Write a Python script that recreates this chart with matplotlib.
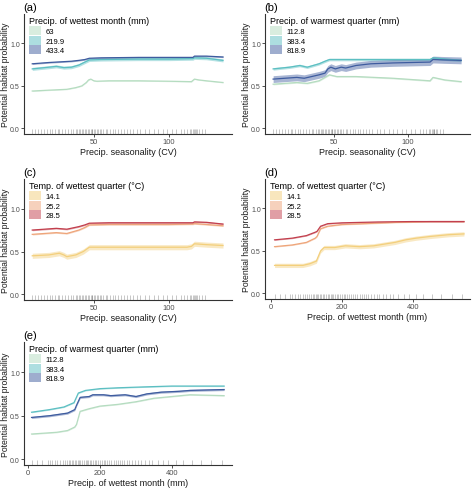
import matplotlib.pyplot as plt
from matplotlib.patches import Patch
from matplotlib.transforms import blended_transform_factory

plt.rcParams['font.family'] = ['Liberation Sans', 'DejaVu Sans']

# colours
prec_cols = ['#b5dcc0', '#5cbfc2', '#3e5c9f']
temp_cols = ['#f3cf7c', '#eea57a', '#c23f4d']

# rug positions
cv_rug = [9, 11, 13, 15, 17, 19, 21, 22, 24, 26, 27, 29, 31, 33, 35, 36, 38, 39, 40, 41,
          42, 43, 44, 45, 46, 47, 48, 48.5, 49, 50, 51, 52, 53, 54, 55, 56, 58, 59, 61, 63,
          64, 66, 68, 70, 72, 74, 76, 79, 81, 84, 87, 90, 93, 96, 99, 102, 105, 108, 110,
          112, 114, 115, 116, 117, 117.5, 118, 119, 120, 122, 124]
prec_rug = [12, 25, 40, 55, 60, 68, 75, 82, 90, 96, 102, 108, 113, 118, 122, 126, 130, 134,
            138, 142, 146, 150, 155, 160, 164, 168, 172, 176, 180, 185, 190, 195, 200, 205,
            210, 215, 220, 226, 232, 238, 244, 250, 256, 262, 268, 275, 282, 290, 298, 306,
            315, 325, 335, 345, 360, 375, 390, 410, 430, 455, 480, 510, 540]

# (a) precip seasonality x precip of wettest month
a_labels = ['63', '219.9', '433.4']
a_x = [[9, 20, 32, 38, 42, 45, 46.5, 48, 50, 52, 60, 80, 100, 115, 117, 120, 125, 136],
       [9, 20, 25, 30, 35, 40, 44, 47, 55, 80, 100, 116, 117, 125, 136],
       [9, 20, 30, 35, 40, 44, 47, 55, 80, 100, 116, 117, 125, 136]]
a_y = [[0.44, 0.45, 0.46, 0.48, 0.50, 0.54, 0.57, 0.58, 0.56, 0.555, 0.56, 0.56, 0.555, 0.55, 0.58, 0.57, 0.56, 0.54],
       [0.70, 0.72, 0.73, 0.715, 0.72, 0.745, 0.78, 0.805, 0.81, 0.815, 0.815, 0.82, 0.83, 0.825, 0.80],
       [0.76, 0.775, 0.785, 0.79, 0.80, 0.81, 0.825, 0.83, 0.835, 0.835, 0.835, 0.85, 0.85, 0.84]]
a_se = [0.005, 0.018, 0.008]

# (b) precip seasonality x precip of warmest quarter
b_labels = ['112.8', '383.4', '818.9']
b_x = [[9, 25, 32, 40, 44, 47, 52, 65, 90, 115, 117, 125, 136],
       [9, 20, 27, 32, 40, 44, 47, 60, 90, 115, 117, 125, 136],
       [9, 25, 30, 40, 44, 46, 48, 51, 55, 58, 65, 75, 90, 115, 117, 125, 136]]
b_y = [[0.52, 0.54, 0.53, 0.56, 0.60, 0.63, 0.61, 0.61, 0.59, 0.56, 0.60, 0.57, 0.55],
       [0.70, 0.72, 0.74, 0.72, 0.76, 0.79, 0.81, 0.81, 0.81, 0.81, 0.83, 0.815, 0.80],
       [0.58, 0.60, 0.59, 0.63, 0.65, 0.70, 0.72, 0.70, 0.72, 0.71, 0.74, 0.76, 0.77, 0.78, 0.81, 0.805, 0.80]]
b_se = [0.008, 0.015, 0.04]

# (c) precip seasonality x temp of wettest quarter
c_labels = ['14.1', '25.2', '28.5']
c_x = [[9, 20, 27, 30, 32, 38, 43, 47, 60, 80, 100, 112, 115, 117, 125, 136],
       [9, 25, 32, 40, 44, 47, 60, 100, 116, 117, 125, 136],
       [9, 25, 32, 40, 44, 47, 60, 100, 116, 117, 125, 136]]
c_y = [[0.45, 0.46, 0.48, 0.46, 0.44, 0.46, 0.50, 0.55, 0.55, 0.55, 0.55, 0.55, 0.56, 0.59, 0.58, 0.57],
       [0.70, 0.72, 0.71, 0.75, 0.78, 0.81, 0.815, 0.815, 0.82, 0.825, 0.815, 0.80],
       [0.75, 0.77, 0.76, 0.79, 0.81, 0.83, 0.835, 0.835, 0.835, 0.845, 0.84, 0.82]]
c_se = [0.03, 0.008, 0.008]

# (d) precip of wettest month x temp of wettest quarter
d_labels = ['14.1', '25.2', '28.5']
d_x = [[10, 90, 110, 128, 140, 150, 180, 210, 250, 290, 320, 350, 380, 410, 450, 500, 545],
       [10, 60, 100, 125, 130, 140, 160, 200, 260, 350, 450, 545],
       [10, 60, 100, 125, 130, 140, 160, 200, 300, 400, 545]]
d_y = [[0.33, 0.33, 0.35, 0.38, 0.50, 0.54, 0.54, 0.56, 0.55, 0.56, 0.58, 0.60, 0.63, 0.65, 0.67, 0.69, 0.70],
       [0.55, 0.57, 0.60, 0.65, 0.67, 0.76, 0.79, 0.81, 0.82, 0.835, 0.845, 0.845],
       [0.63, 0.65, 0.68, 0.72, 0.73, 0.79, 0.82, 0.83, 0.84, 0.845, 0.845]]
d_se = [0.025, 0.006, 0.006]

# (e) precip of wettest month x precip of warmest quarter
e_labels = ['112.8', '383.4', '818.9']
e_x = [[10, 80, 110, 130, 135, 145, 170, 200, 250, 300, 350, 400, 450, 545],
       [10, 60, 100, 128, 140, 160, 200, 250, 320, 400, 545],
       [10, 60, 110, 130, 135, 145, 170, 180, 210, 230, 270, 300, 330, 370, 420, 450, 545]]
e_y = [[0.29, 0.31, 0.33, 0.37, 0.40, 0.55, 0.58, 0.61, 0.63, 0.66, 0.70, 0.72, 0.74, 0.73],
       [0.54, 0.57, 0.60, 0.65, 0.76, 0.79, 0.81, 0.82, 0.83, 0.84, 0.84],
       [0.48, 0.50, 0.53, 0.57, 0.62, 0.71, 0.72, 0.74, 0.74, 0.73, 0.74, 0.72, 0.75, 0.77, 0.78, 0.79, 0.80]]
e_se = [0.006, 0.006, 0.012]

panels = [
    ('(a)', [24, 15, 232, 135], 'Precip. of wettest month (mm)', a_labels, a_x, a_y, a_se, prec_cols,
     'Precip. seasonality (CV)', cv_rug, (3.5, 142), [50, 100]),
    ('(b)', [265, 15, 470, 135], 'Precip. of warmest quarter (mm)', b_labels, b_x, b_y, b_se, prec_cols,
     'Precip. seasonality (CV)', cv_rug, (3.5, 142), [50, 100]),
    ('(c)', [24, 180, 232, 301], 'Temp. of wettest quarter (°C)', c_labels, c_x, c_y, c_se, temp_cols,
     'Precip. seasonality (CV)', cv_rug, (3.5, 142), [50, 100]),
    ('(d)', [265, 180, 470, 300], 'Temp. of wettest quarter (°C)', d_labels, d_x, d_y, d_se, temp_cols,
     'Precip. of wettest month (mm)', prec_rug, (-17, 562), [0, 200, 400]),
    ('(e)', [24, 343, 232, 466], 'Precip. of warmest quarter (mm)', e_labels, e_x, e_y, e_se, prec_cols,
     'Precip. of wettest month (mm)', prec_rug, (-11, 567), [0, 200, 400]),
]

W, H = 474, 489
fig = plt.figure(figsize=(W / 100, H / 100), dpi=100)

for tag, box, leg_title, labels, xs, ys, ses, cols, xlabel, rug, xlim, xticks in panels:
    x0, y0, x1, y1 = box
    ax = fig.add_axes([x0 / W, 1 - y1 / H, (x1 - x0) / W, (y1 - y0) / H])

    for x, y, se, col in zip(xs, ys, ses, cols):
        lo = [v - se for v in y]
        hi = [v + se for v in y]
        ax.fill_between(x, lo, hi, color=col, alpha=0.45, lw=0)
        ax.plot(x, y, color=col, lw=0.9)

    trans = blended_transform_factory(ax.transData, ax.transAxes)
    ax.vlines(rug, 0, 0.04, transform=trans, color='#444444', alpha=0.35, lw=0.6)

    ax.set_xlim(*xlim)
    ax.set_ylim(-0.065, 1.345)
    ax.set_yticks([0, 0.5, 1.0])
    ax.set_yticklabels(['0.0', '0.5', '1.0'])
    ax.set_xticks(xticks)
    ax.spines['top'].set_visible(False)
    ax.spines['right'].set_visible(False)
    ax.spines['left'].set_color('#333333')
    ax.spines['bottom'].set_color('#333333')
    ax.tick_params(labelsize=5.0, labelcolor='#4d4d4d', color='#333333', length=2, width=0.6, pad=1.0)
    ax.tick_params(axis='x', labelsize=5.4)
    ax.set_xlabel(xlabel, fontsize=6.5, labelpad=1, color='#1a1a1a')
    ax.set_ylabel('Potential habitat probability', fontsize=6.2, color='#1a1a1a', va='center')
    ax.yaxis.set_label_coords(-18.5 / (x1 - x0), 0.5)

    handles = [Patch(facecolor=c, alpha=0.5, edgecolor='none') for c in cols]
    ax.legend(handles, labels, title=leg_title, loc='upper left', frameon=False,
              fontsize=5.5, title_fontsize=6.5, alignment='left',
              handlelength=1.5, handleheight=1.4, labelspacing=0.1,
              handletextpad=0.6, borderaxespad=0.0, borderpad=0.3,
              bbox_to_anchor=(0.015, 1.0))

    fig.text((x0 - 1) / W, 1 - (y0 - 7) / H, tag, fontsize=8, va='center', ha='left')

fig.savefig('out.png', dpi=100)
